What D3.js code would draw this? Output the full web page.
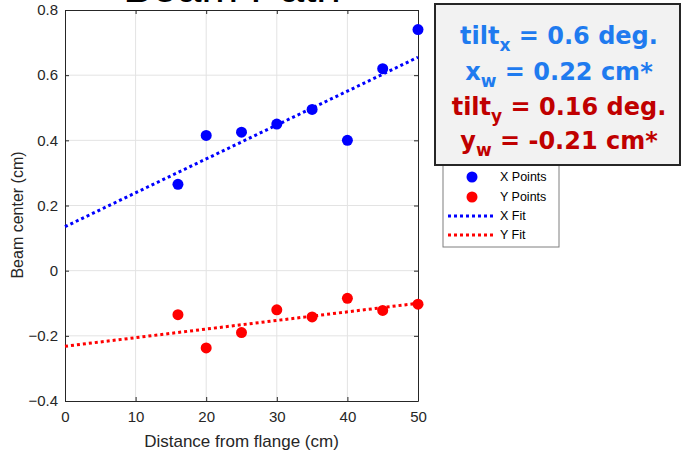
<!DOCTYPE html>
<html>
<head>
<meta charset="utf-8">
<style>
  body { margin: 0; background: #fff; }
  svg { font-family: "Liberation Sans", Arial, sans-serif; }
  .grid line { stroke: #e3e3e3; stroke-width: 1px; }
  .axis text { fill: #262626; font-size: 15px; }
  .axis path, .axis line { stroke: #262626; }
</style>
</head>
<body>
<script src="https://cdn.jsdelivr.net/npm/d3@7"></script>
<script>
// data
var dist = [16, 20, 25, 30, 35, 40, 45, 50];
var xPoints = [0.265, 0.415, 0.425, 0.45, 0.495, 0.40, 0.62, 0.74];
var yPoints = [-0.135, -0.237, -0.19, -0.12, -0.142, -0.085, -0.122, -0.103];
var xFit = [[0, 0.135], [50, 0.655]];
var yFit = [[0, -0.232], [50, -0.10]];
var xTicks = [0, 10, 20, 30, 40, 50];
var yTicks = [-0.4, -0.2, 0, 0.2, 0.4, 0.6, 0.8];
var legendItems = [
  { name: "X Points", color: "#0000ff", type: "dot" },
  { name: "Y Points", color: "#ff0000", type: "dot" },
  { name: "X Fit", color: "#0000ff", type: "line" },
  { name: "Y Fit", color: "#ff0000", type: "line" }
];

var W = 683, H = 453;
var margin = { top: 10, right: 265, bottom: 52, left: 65 },
    width = 418 - margin.left,
    height = 401 - margin.top;

var svg = d3.select("body").append("svg")
    .attr("width", W)
    .attr("height", H);

// title, mostly cut off at the top
svg.append("text")
    .attr("x", 232)
    .attr("y", 1.5)
    .attr("text-anchor", "middle")
    .style("font-size", "44px")
    .style("fill", "#000")
    .text("Beam Path");

var g = svg.append("g")
    .attr("transform", "translate(" + margin.left + "," + margin.top + ")");

var x = d3.scaleLinear().domain([0, 50]).range([0, width]);
var y = d3.scaleLinear().domain([-0.4, 0.8]).range([height, 0]);

g.append("rect").attr("width", width).attr("height", height).attr("fill", "#fff");

// grid
g.append("g").attr("class", "grid")
    .selectAll("line").data(xTicks.slice(1, -1)).enter().append("line")
    .attr("x1", function (d) { return x(d); }).attr("x2", function (d) { return x(d); })
    .attr("y1", 0).attr("y2", height);
g.append("g").attr("class", "grid")
    .selectAll("line").data(yTicks.slice(1, -1)).enter().append("line")
    .attr("y1", function (d) { return y(d); }).attr("y2", function (d) { return y(d); })
    .attr("x1", 0).attr("x2", width);

// axes
var fmt = function (d) { return d === 0 ? "0" : d3.format(".1f")(d); };
g.append("g").attr("class", "axis")
    .attr("transform", "translate(0," + height + ")")
    .call(d3.axisBottom(x).tickValues(xTicks).tickSizeInner(-4).tickSizeOuter(0).tickPadding(10));
g.append("g").attr("class", "axis")
    .call(d3.axisLeft(y).tickValues(yTicks).tickFormat(fmt).tickSizeInner(-4).tickSizeOuter(0).tickPadding(7));
g.append("g").attr("class", "axis")
    .call(d3.axisTop(x).tickValues(xTicks).tickFormat("").tickSizeInner(-4).tickSizeOuter(0));
g.append("g").attr("class", "axis")
    .attr("transform", "translate(" + width + ",0)")
    .call(d3.axisRight(y).tickValues(yTicks).tickFormat("").tickSizeInner(-4).tickSizeOuter(0));

// axis labels
g.append("text")
    .attr("x", width / 2).attr("y", height + 46)
    .attr("text-anchor", "middle")
    .style("font-size", "17px").style("fill", "#262626")
    .text("Distance from flange (cm)");
g.append("text")
    .attr("transform", "rotate(-90)")
    .attr("x", -(215 - margin.top)).attr("y", -42)
    .attr("text-anchor", "middle")
    .style("font-size", "16px").style("fill", "#262626")
    .text("Beam center (cm)");

// fit lines
var line = d3.line()
    .x(function (d) { return x(d[0]); })
    .y(function (d) { return y(d[1]); });
g.append("path").datum(xFit).attr("d", line)
    .attr("fill", "none").attr("stroke", "#0000ff")
    .attr("stroke-width", 3).attr("stroke-dasharray", "3,3");
g.append("path").datum(yFit).attr("d", line)
    .attr("fill", "none").attr("stroke", "#ff0000")
    .attr("stroke-width", 3).attr("stroke-dasharray", "3,3");

// points
g.selectAll(".xp").data(dist).enter().append("circle")
    .attr("class", "xp")
    .attr("cx", function (d) { return x(d); })
    .attr("cy", function (d, i) { return y(xPoints[i]); })
    .attr("r", 5.5).attr("fill", "#0000ff");
g.selectAll(".yp").data(dist).enter().append("circle")
    .attr("class", "yp")
    .attr("cx", function (d) { return x(d); })
    .attr("cy", function (d, i) { return y(yPoints[i]); })
    .attr("r", 5.5).attr("fill", "#ff0000");

// legend
var lg = svg.append("g").attr("transform", "translate(443,160)");
lg.append("rect").attr("width", 116).attr("height", 87)
    .attr("fill", "#fff").attr("stroke", "#7f7f7f").attr("stroke-width", 1);
var item = lg.selectAll(".item").data(legendItems).enter().append("g")
    .attr("class", "item")
    .attr("transform", function (d, i) { return "translate(0," + [17, 37, 56, 75][i] + ")"; });
item.filter(function (d) { return d.type === "dot"; }).append("circle")
    .attr("cx", 29).attr("r", 5.5).attr("fill", function (d) { return d.color; });
item.filter(function (d) { return d.type === "line"; }).append("line")
    .attr("x1", 5).attr("x2", 51)
    .attr("stroke", function (d) { return d.color; })
    .attr("stroke-width", 3).attr("stroke-dasharray", "3,3");
item.append("text")
    .attr("x", 57).attr("dy", "0.35em")
    .style("font-size", "12.5px").style("fill", "#000")
    .text(function (d) { return d.name; });

// annotation box
var ab = svg.append("g").attr("transform", "translate(435,4)");
ab.append("rect").attr("width", 245).attr("height", 161)
    .attr("fill", "#f2f2f2").attr("stroke", "#262626").attr("stroke-width", 2);
var notes = [
  { main: "tilt", sub: "x", rest: " = 0.6 deg.", color: "#1f7bef", y: 40 },
  { main: "x", sub: "w", rest: " = 0.22 cm*", color: "#1f7bef", y: 76 },
  { main: "tilt", sub: "y", rest: " = 0.16 deg.", color: "#c00000", y: 111 },
  { main: "y", sub: "w", rest: " = -0.21 cm*", color: "#c00000", y: 145 }
];
notes.forEach(function (n) {
  var t = ab.append("text")
      .attr("x", 124).attr("y", n.y)
      .attr("text-anchor", "middle")
      .style("font-family", "'DejaVu Sans', sans-serif")
      .style("font-weight", "bold")
      .style("font-size", "24px")
      .style("fill", n.color);
  t.append("tspan").text(n.main);
  t.append("tspan").attr("dy", 7).style("font-size", "17px").text(n.sub);
  t.append("tspan").attr("dy", -7).text(n.rest);
});
</script>
</body>
</html>
